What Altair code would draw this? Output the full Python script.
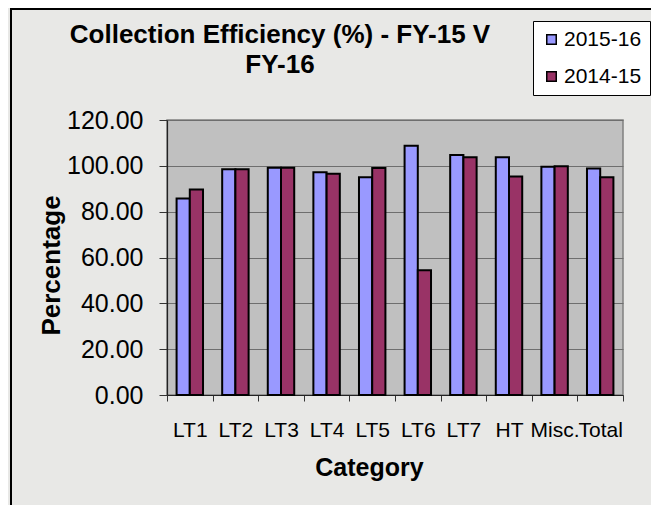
import altair as alt
import pandas as pd

categories = ["LT1", "LT2", "LT3", "LT4", "LT5", "LT6", "LT7", "HT", "Misc.", "Total"]
fy_2015_16 = [85.8, 98.5, 99.2, 97.2, 95.0, 108.8, 104.7, 103.7, 99.6, 98.8]
fy_2014_15 = [89.7, 98.5, 99.2, 96.6, 99.1, 54.4, 103.7, 95.3, 99.8, 95.0]
series = ["2015-16", "2014-15"]
colors = ["#9999ff", "#993366"]
y_ticks = [0, 20, 40, 60, 80, 100, 120]

rows = []
for c, a, b in zip(categories, fy_2015_16, fy_2014_15):
    rows.append({"Category": c, "Series": series[0], "Value": a})
    rows.append({"Category": c, "Series": series[1], "Value": b})
df = pd.DataFrame(rows)

FONT = "Liberation Sans"
W, H = 456, 275

bars = alt.Chart(df).mark_bar(stroke="black", strokeWidth=2).encode(
    x=alt.X("Category:N", sort=categories,
            scale=alt.Scale(paddingInner=0, paddingOuter=0),
            axis=alt.Axis(title="Category", labelAngle=0, labelFontSize=21,
                          labelFont=FONT, labelColor="black", labelPadding=18,
                          tickSize=6, tickColor="#333", tickBand="extent",
                          domainColor="#222", domainWidth=1.2,
                          titleFont=FONT, titleFontSize=25, titleFontWeight="bold",
                          titleX=202, titleY=80, titleBaseline="alphabetic",
                          titleAlign="center", grid=False)),
    xOffset=alt.XOffset("Series:N", sort=series,
                        scale=alt.Scale(paddingInner=0, paddingOuter=0.725)),
    y=alt.Y("Value:Q", scale=alt.Scale(domain=[0, 120], nice=False),
            axis=alt.Axis(title="Percentage", values=y_ticks, format=".2f",
                          labelFontSize=25, labelFont=FONT, labelColor="black",
                          labelPadding=16, tickSize=8, tickColor="#333",
                          domainColor="#222", domainWidth=1.2,
                          gridColor="#6e6e6e", gridWidth=1,
                          titleFont=FONT, titleFontSize=26, titleFontWeight="bold",
                          titleX=-108, titleY=145, titleBaseline="alphabetic",
                          titleAlign="center", titleAngle=270)),
    color=alt.Color("Series:N", sort=series,
                    scale=alt.Scale(domain=series, range=colors),
                    legend=alt.Legend(title=None, orient="none", legendX=366, legendY=-99,
                                      symbolType="square", symbolSize=90,
                                      symbolStrokeColor="black", symbolStrokeWidth=1.5,
                                      labelFontSize=21, labelFont=FONT, labelColor="black",
                                      labelOffset=2, rowPadding=15, padding=8,
                                      fillColor="white", strokeColor="black")),
)

border = alt.Chart(pd.DataFrame({"k": [0]})).mark_rule(color="black", strokeWidth=2).encode(
    x=alt.value(-156), y=alt.value(-112), y2=alt.value(H + 110)
)
border_top = alt.Chart(pd.DataFrame({"k": [0]})).mark_rule(color="black", strokeWidth=2).encode(
    x=alt.value(-156), x2=alt.value(W + 28), y=alt.value(-111)
)

chart = alt.layer(bars, border, border_top).properties(
    width=W, height=H,
    autosize=alt.AutoSizeParams(type="none"),
    padding={"left": 159, "top": 112, "right": 28, "bottom": 110},
    background="#e8e8e6",
    title=alt.TitleParams(["Collection Efficiency (%) - FY-15 V", "FY-16"],
                          font=FONT, fontSize=26, fontWeight="bold", color="black",
                          anchor="middle", frame="group", dx=-115, lineHeight=30,
                          offset=0, dy=71),
).configure_view(fill="#c0c0c0", stroke="#808080", strokeWidth=1.5)

chart.save("out.html", embed_options={"renderer": "svg", "actions": False})
